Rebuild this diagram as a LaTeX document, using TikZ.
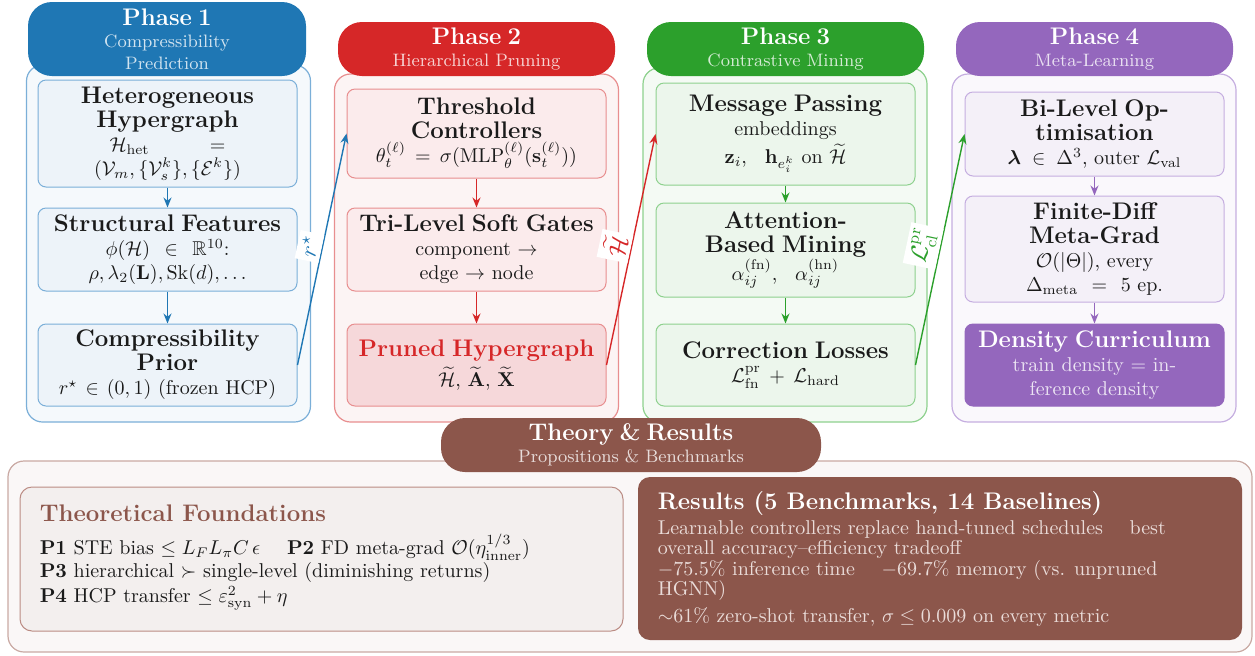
\documentclass[tikz,border=0pt]{standalone}
\usepackage{amsmath,amssymb}
\usetikzlibrary{arrows.meta}

\definecolor{pblue}{HTML}{1F77B4}
\definecolor{p1line}{HTML}{7BAFD8}
\definecolor{p1back}{HTML}{F5F9FC}
\definecolor{p1box}{HTML}{EDF3F9}
\definecolor{pred}{HTML}{D62728}
\definecolor{p2line}{HTML}{E88E8F}
\definecolor{p2back}{HTML}{FCF4F4}
\definecolor{p2box}{HTML}{FBEBEC}
\definecolor{p2dark}{HTML}{F6D8DA}
\definecolor{pgreen}{HTML}{2CA02C}
\definecolor{p3line}{HTML}{8ED18E}
\definecolor{p3back}{HTML}{F4FAF4}
\definecolor{p3box}{HTML}{ECF6EC}
\definecolor{ppurple}{HTML}{9467BD}
\definecolor{p4line}{HTML}{C5AEE0}
\definecolor{p4back}{HTML}{FAF8FC}
\definecolor{p4box}{HTML}{F4F0F8}
\definecolor{pbrown}{HTML}{8C564B}
\definecolor{p5line}{HTML}{C9A9A3}
\definecolor{p5back}{HTML}{FAF7F7}
\definecolor{p5box}{HTML}{F3EFEE}
\definecolor{p5boxline}{HTML}{BB8C84}
\definecolor{reslight}{HTML}{EADCD9}
\definecolor{ink}{HTML}{1A1A1A}

\tikzset{every picture/.style={line width=0.75pt}}
\tikzset{
  phasebox/.style={rounded corners=8pt, line width=0.6pt, minimum width=142pt, inner sep=0pt},
  phasehead/.style={rounded corners=12pt, minimum width=139pt, minimum height=27pt, text=white, align=center, text width=136pt, inner sep=0pt, font=\small},
  stagebox/.style={rounded corners=4pt, line width=0.5pt, minimum width=129.5pt, text width=126pt, align=center, inner sep=0pt, text=ink},
  flow/.style={-{Stealth[length=5pt,width=4pt]}, line width=0.8pt},
  hop/.style={-{Stealth[length=5pt,width=4pt]}, line width=0.7pt},
  hoplabel/.style={midway, rotate=78, anchor=south, fill=white, inner sep=2pt, font=\large},
  plain/.style={anchor=west, inner sep=0pt},
}

\begin{document}
\begin{tikzpicture}[x=0.5pt,y=0.5pt,yscale=-1,xscale=1]
        \useasboundingbox (0,0) rectangle (1255,655);
        %Phase containers
        \node [phasebox, draw=p1line, fill=p1back, minimum height=178.5pt] (ph1) at (168.5,243.5) {};
        \node [phasebox, draw=p2line, fill=p2back, minimum height=174pt] (ph2) at (476.5,248) {};
        \node [phasebox, draw=p3line, fill=p3back, minimum height=177pt] (ph3) at (785,245) {};
        \node [phasebox, draw=p4line, fill=p4back, minimum height=174pt] (ph4) at (1094,248) {};
        %Phase headers
        \node [phasehead, fill=pblue, minimum height=37pt] (hd1) at (167,39) {{\large\bfseries Phase 1}\\\color{white!80!pblue}Compressibility\\Prediction};
        \node [phasehead, fill=pred, minimum width=138.5pt] (hd2) at (476.5,49) {{\large\bfseries Phase 2}\\\color{white!80!pred}Hierarchical Pruning};
        \node [phasehead, fill=pgreen, minimum width=138.5pt] (hd3) at (785.5,49) {{\large\bfseries Phase 3}\\\color{white!80!pgreen}Contrastive Mining};
        \node [phasehead, fill=ppurple, minimum width=138.5pt] (hd4) at (1094.5,49) {{\large\bfseries Phase 4}\\\color{white!80!ppurple}Meta-Learning};
        % Phase 1 stages
        \node [stagebox, draw=p1line, fill=p1box, minimum height=53.5pt] (het) at (167.5,133.5) {{\large\bfseries Heterogeneous\\Hypergraph}\\$\mathcal{H}_{\mathrm{het}}\;\;\;=$\\$(\mathcal{V}_m,\{\mathcal{V}_s^k\},\{\mathcal{E}^k\})$};
        \node [stagebox, draw=p1line, fill=p1box, minimum height=41.5pt] (feat) at (167.5,249.5) {{\large\bfseries Structural Features}\\$\phi(\mathcal{H})\in\mathbb{R}^{10}$:\\$\rho,\lambda_2(\mathbf{L}),\mathrm{Sk}(d),\ldots$};
        \node [stagebox, draw=p1line, fill=p1box, minimum height=41pt] (prior) at (167.5,365) {{\large\bfseries Compressibility\\Prior}\\$r^\star\in(0,1)$ (frozen HCP)};
        % Phase 2 stages
        \node [stagebox, draw=p2line, fill=p2box, minimum height=44.5pt] (thresh) at (476.5,133.5) {{\large\bfseries Threshold\\Controllers}\\$\theta_t^{(\ell)}=\sigma(\mathrm{MLP}_\theta^{(\ell)}(\mathbf{s}_t^{(\ell)}))$};
        \node [stagebox, draw=p2line, fill=p2box, minimum height=41.5pt] (gates) at (476.5,249.5) {{\large\bfseries Tri-Level Soft Gates}\\component $\to$\\edge $\to$ node};
        \node [stagebox, draw=p2line, fill=p2dark, minimum height=41pt] (pruned) at (476.5,365) {{\large\bfseries\color{pred}Pruned Hypergraph}\\[2pt]$\widetilde{\mathcal{H}}$, $\widetilde{\mathbf{A}}$, $\widetilde{\mathbf{X}}$};
        % Phase 3 stages
        \node [stagebox, draw=p3line, fill=p3box, minimum height=51pt] (msg) at (785.5,134) {{\large\bfseries Message Passing}\\embeddings\\[2pt]$\mathbf{z}_i$,\;\; $\mathbf{h}_{e_i^k}$ on $\widetilde{\mathcal{H}}$};
        \node [stagebox, draw=p3line, fill=p3box, minimum height=47pt] (mine) at (785.5,250) {{\large\bfseries Attention-\\Based Mining}\\$\alpha_{ij}^{(\mathrm{fn})}$,\;\; $\alpha_{ij}^{(\mathrm{hn})}$};
        \node [stagebox, draw=p3line, fill=p3box, minimum height=41pt] (loss) at (785.5,365) {{\large\bfseries Correction Losses}\\$\mathcal{L}_{\mathrm{fn}}^{\mathrm{pr}}+\mathcal{L}_{\mathrm{hard}}$};
        % Phase 4 stages
        \node [stagebox, draw=p4line, fill=p4box, minimum height=42pt] (bilevel) at (1094.5,134) {{\large\bfseries Bi-Level Op-\\timisation}\\$\boldsymbol{\lambda}\in\Delta^3$, outer $\mathcal{L}_{\mathrm{val}}$};
        \node [stagebox, draw=p4line, fill=p4box, minimum height=53pt] (fdiff) at (1094.5,249) {{\large\bfseries Finite-Diff\\Meta-Grad}\\$\mathcal{O}(|\Theta|)$, every\\$\Delta_{\mathrm{meta}}=5$ ep.};
        \node [stagebox, draw=ppurple, fill=ppurple, minimum height=41pt, text=white!82!ppurple] (curric) at (1094.5,365) {{\large\bfseries\color{white}Density Curriculum}\\train density = in-\\ference density};
        % Flow inside phases
        \draw [flow, pblue] (het) -- (feat);
        \draw [flow, pblue] (feat) -- (prior);
        \draw [flow, pred] (thresh) -- (gates);
        \draw [flow, pred] (gates) -- (pruned);
        \draw [flow, pgreen] (msg) -- (mine);
        \draw [flow, pgreen] (mine) -- (loss);
        \draw [flow, ppurple] (bilevel) -- (fdiff);
        \draw [flow, ppurple] (fdiff) -- (curric);
        % Hand-over between phases
        \draw [hop, pblue] (prior.east) -- node [hoplabel, text=pblue] {$r^\star$} (thresh.west);
        \draw [hop, pred] (pruned.east) -- node [hoplabel, text=pred] {$\widetilde{\mathcal{H}}$} (msg.west);
        \draw [hop, pgreen] (loss.east) -- node [hoplabel, text=pgreen] {$\mathcal{L}_{\mathrm{cl}}^{\mathrm{pr}}$} (bilevel.west);
        %Theory and results
        \node [phasebox, draw=p5line, fill=p5back, minimum width=622pt, minimum height=95.5pt] (theory) at (630,556.5) {};
        \node [phasehead, fill=pbrown, minimum width=190pt, text width=185pt] (hd5) at (631,445) {{\large\bfseries Theory \& Results}\\\color{white!80!pbrown}Propositions \& Benchmarks};
        \node [rounded corners=6pt, draw=p5boxline, fill=p5box, line width=0.5pt, minimum width=301.5pt, minimum height=72pt] (found) at (321.5,559) {};
        \node [plain, text=pbrown, font=\large\bfseries] (foundtitle) at (39,513) {Theoretical Foundations};
        \node [plain, text=ink] (propa) at (39,547) {\textbf{P1} STE bias $\le L_F L_\pi C\,\epsilon$\quad\ \textbf{P2} FD meta-grad $\mathcal{O}(\eta_{\mathrm{inner}}^{1/3})$};
        \node [plain, text=ink] (propb) at (39,572) {\textbf{P3} hierarchical $\succ$ single-level (diminishing returns)};
        \node [plain, text=ink] (propc) at (39,598) {\textbf{P4} HCP transfer $\le\varepsilon_{\mathrm{syn}}^2+\eta$};
        \node [rounded corners=6pt, fill=pbrown, minimum width=302pt, minimum height=81.5pt] (res) at (940,558.5) {};
        \node [plain, text=white, font=\large\bfseries] (restitle) at (657,504) {Results (5 Benchmarks, 14 Baselines)};
        \node [plain, text=reslight, align=left] (resa) at (657,539.5) {Learnable controllers replace hand-tuned schedules\quad\ best\\[-2pt]overall accuracy--efficiency tradeoff};
        \node [plain, text=reslight, align=left] (resb) at (657,580) {$-75.5\%$ inference time\quad\ $-69.7\%$ memory (vs. unpruned\\[-2pt]HGNN)};
        \node [plain, text=reslight] (resc) at (657,617) {$\sim$61\% zero-shot transfer, $\sigma\le0.009$ on every metric};
\end{tikzpicture}
\end{document}
